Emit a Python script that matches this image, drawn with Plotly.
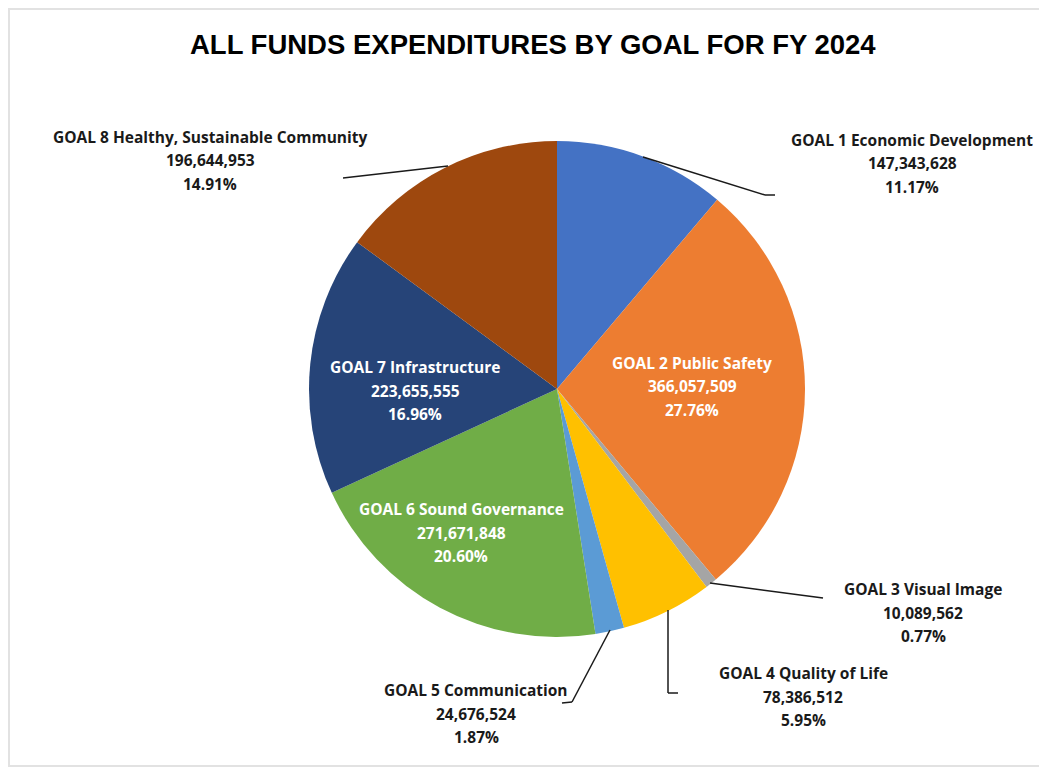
import plotly.graph_objects as go

# ---- data ----
goals = [
    "GOAL 1 Economic Development",
    "GOAL 2 Public Safety",
    "GOAL 3 Visual Image",
    "GOAL 4 Quality of Life",
    "GOAL 5 Communication",
    "GOAL 6 Sound Governance",
    "GOAL 7 Infrastructure",
    "GOAL 8 Healthy, Sustainable Community",
]
amounts = [147343628, 366057509, 10089562, 78386512, 24676524, 271671848, 223655555, 196644953]
colors = ["#4472C4", "#ED7D31", "#A5A5A5", "#FFC000", "#5B9BD5", "#70AD47", "#264478", "#9E480E"]
title_text = "ALL FUNDS EXPENDITURES BY GOAL FOR FY 2024"

# ---- layout helpers (page pixel positions; the page body has an 8px margin) ----
OFF = 8
W, H = 1047 - OFF, 771 - OFF


def px(x, y):
    return (x - OFF) / W, 1 - (y - OFF) / H


total = sum(amounts)
pcts = [a / total * 100 for a in amounts]

# label centre x, first line y, colour
label_pos = [
    (912, 140, "#1a1a1a"),
    (692, 363, "white"),
    (923, 589, "#1a1a1a"),
    (803, 673, "#1a1a1a"),
    (476, 690, "#1a1a1a"),
    (461, 509, "white"),
    (415, 367, "white"),
    (210, 137, "#1a1a1a"),
]
line_gap = 23.5

leaders = [
    [(643, 157), (765, 195), (775, 195)],
    None,
    [(710, 583), (823, 598)],
    [(668, 610), (668, 693), (678, 693)],
    [(610, 630), (572, 702), (562, 703)],
    None,
    None,
    [(343, 178), (448, 166)],
]

fig = go.Figure()
d0x, d0y = px(309, 637)
d1x, d1y = px(805, 141)
fig.add_trace(go.Pie(
    labels=goals,
    values=amounts,
    sort=False,
    direction="clockwise",
    rotation=0,
    marker=dict(colors=colors, line=dict(width=0)),
    textinfo="none",
    hoverinfo="label+value+percent",
    showlegend=False,
    domain=dict(x=[d0x, d1x], y=[d0y, d1y]),
))

annotations = []
label_font = "'Open Sans', Lato, Arial, sans-serif"
for g, a, p, (cx, cy, col) in zip(goals, amounts, pcts, label_pos):
    lines = [g, f"{a:,}", f"{p:.2f}%"]
    for i, t in enumerate(lines):
        x, y = px(cx, cy + i * line_gap)
        annotations.append(dict(
            x=x, y=y, xref="paper", yref="paper", text=f"<b>{t}</b>",
            showarrow=False, xanchor="center", yanchor="middle",
            font=dict(family=label_font, size=15.5, color=col),
        ))

tx, ty = px(533, 45)
annotations.append(dict(
    x=tx, y=ty, xref="paper", yref="paper", text=f"<b>{title_text}</b>",
    showarrow=False, xanchor="center", yanchor="middle",
    font=dict(family="'Liberation Sans Narrow', 'Arial Narrow', Arial, sans-serif", size=27.5, color="black"),
))

shapes = []
for pts in leaders:
    if not pts:
        continue
    for (x0, y0), (x1, y1) in zip(pts[:-1], pts[1:]):
        a0, b0 = px(x0, y0)
        a1, b1 = px(x1, y1)
        shapes.append(dict(type="line", xref="paper", yref="paper",
                           x0=a0, y0=b0, x1=a1, y1=b1,
                           line=dict(color="#1a1a1a", width=1.5)))

# light frame around the chart area
f0 = px(9, 9)
f1 = px(1060, 766)
shapes.append(dict(type="rect", xref="paper", yref="paper",
                   x0=f0[0], y0=f1[1], x1=f1[0], y1=f0[1],
                   line=dict(color="#e2e2e2", width=2), layer="below"))

fig.update_layout(
    width=W, height=H,
    margin=dict(l=0, r=0, t=0, b=0),
    paper_bgcolor="white",
    plot_bgcolor="white",
    annotations=annotations,
    shapes=shapes,
)

fig.write_html("out.html")
